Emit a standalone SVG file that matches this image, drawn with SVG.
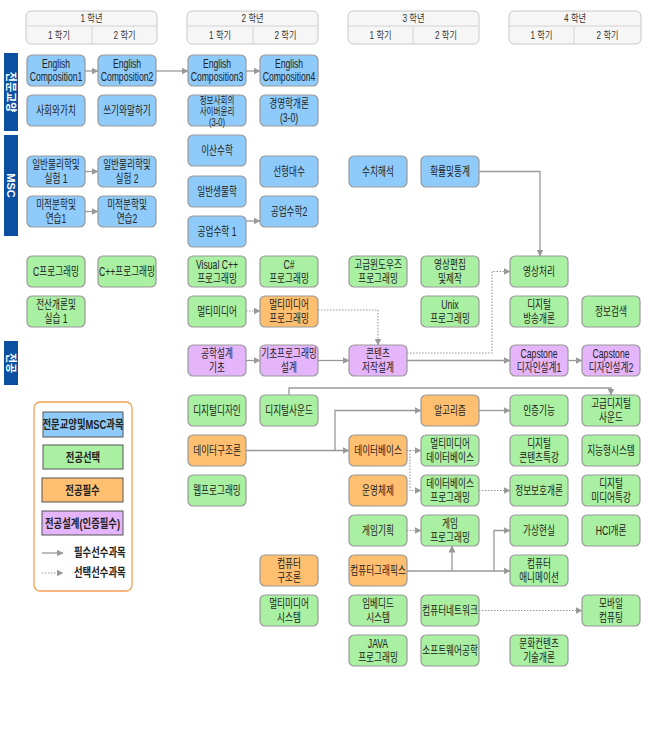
<svg xmlns="http://www.w3.org/2000/svg" width="650" height="750" viewBox="0 0 650 750">
<style>
text{font-family:"Liberation Sans","Noto Sans CJK KR",sans-serif;fill:#222}
.t{font-size:12px;text-anchor:middle;transform-box:fill-box;transform-origin:center;transform:scaleX(.72)}
.t3{font-size:10.5px}
.th{font-size:10px;text-anchor:middle;fill:#333;transform-box:fill-box;transform-origin:center;transform:scaleX(.82)}
.side{font-size:11px;font-weight:bold;fill:#fff;text-anchor:middle}
.lg{font-size:12px;font-weight:bold;text-anchor:middle;transform-box:fill-box;transform-origin:center;transform:scaleX(.78)}
.lgl{font-size:12px;font-weight:bold;transform-box:fill-box;transform-origin:left;transform:scaleX(.78)}
.n{stroke:#999;stroke-width:1.2;rx:5;ry:5}
.b{fill:#8ecbfb}.g{fill:#a9f0a2}.o{fill:#ffbf70}.p{fill:#e5b5fb}
.hd{fill:#f6f6f6;stroke:#c8c8c8;stroke-width:1}
.bar{fill:#0b4fa1}
.sl{fill:none;stroke:#999;stroke-width:1.3;marker-end:url(#ah)}
.dl{fill:none;stroke:#999;stroke-width:1.1;stroke-dasharray:1.5 1.5;marker-end:url(#ah)}
.li{stroke:#555;stroke-width:1}
</style>
<defs>
<marker id="ah" markerUnits="userSpaceOnUse" markerWidth="7" markerHeight="7" refX="6.5" refY="3.5" orient="auto"><path d="M0,0 L7,3.5 L0,7 z" fill="#999"/></marker>
</defs>

<g id="headers">
<g id="h-y1"><rect class="hd" x="26" y="11" width="131" height="33" rx="5"/><line x1="26" y1="26" x2="157" y2="26" stroke="#d4d4d4"/><line x1="92" y1="26" x2="92" y2="44" stroke="#d4d4d4"/>
<text class="th" x="91.5" y="22">1 학년</text><text class="th" x="59" y="39">1 학기</text><text class="th" x="124.5" y="39">2 학기</text></g>
<g id="h-y2"><rect class="hd" x="187" y="11" width="131" height="33" rx="5"/><line x1="187" y1="26" x2="318" y2="26" stroke="#d4d4d4"/><line x1="253" y1="26" x2="253" y2="44" stroke="#d4d4d4"/>
<text class="th" x="252.5" y="22">2 학년</text><text class="th" x="220" y="39">1 학기</text><text class="th" x="285.5" y="39">2 학기</text></g>
<g id="h-y3"><rect class="hd" x="348" y="11" width="131" height="33" rx="5"/><line x1="348" y1="26" x2="479" y2="26" stroke="#d4d4d4"/><line x1="413" y1="26" x2="413" y2="44" stroke="#d4d4d4"/>
<text class="th" x="413.5" y="22">3 학년</text><text class="th" x="380.5" y="39">1 학기</text><text class="th" x="446" y="39">2 학기</text></g>
<g id="h-y4"><rect class="hd" x="509" y="11" width="132" height="33" rx="5"/><line x1="509" y1="26" x2="641" y2="26" stroke="#d4d4d4"/><line x1="574" y1="26" x2="574" y2="44" stroke="#d4d4d4"/>
<text class="th" x="575" y="22">4 학년</text><text class="th" x="541.5" y="39">1 학기</text><text class="th" x="607.5" y="39">2 학기</text></g>
</g>

<g id="side-labels">
<g id="s-gen"><rect class="bar" x="4" y="53" width="14" height="78"/><text class="side" transform="translate(11,92) rotate(90)" y="4">전문교양</text></g>
<g id="s-msc"><rect class="bar" x="4" y="135" width="14" height="101"/><text class="side" transform="translate(11,185.5) rotate(90)" y="4">MSC</text></g>
<g id="s-major"><rect class="bar" x="4" y="341" width="14" height="44"/><text class="side" transform="translate(11,363) rotate(90)" y="4">전공</text></g>
</g>

<g id="connectors">
<path class="sl" d="M85,71 H98"/>
<path class="sl" d="M156,71 H188"/>
<path class="sl" d="M246,71 H260"/>
<path class="sl" d="M85,171.5 H98"/>
<path class="sl" d="M85,211.5 H98"/>
<path class="sl" d="M246,221 H260"/>
<path class="sl" d="M479,171.5 H540 V256"/>
<path class="sl" d="M246,360.5 H260"/>
<path class="sl" d="M318,360.5 H349"/>
<path class="sl" d="M407,360.5 H510"/>
<path class="sl" d="M568,360.5 H582"/>
<path class="sl" d="M289,395 V388 H611 V395"/>
<path class="sl" d="M246,450.5 H349"/>
<path class="sl" d="M335,450.5 V410.5 H421"/>
<path class="sl" d="M479,410.5 H510"/>
<path class="sl" d="M407,571 H510"/>
<path class="sl" d="M452,571 V546"/>
<path class="sl" d="M494,571 V530.5 H510"/>
<path class="dl" d="M246,311 H260"/>
<path class="dl" d="M318,310 H378 V345"/>
<path class="dl" d="M407,353 H492 V271.5 H510"/>
<path class="dl" d="M407,450.5 H421"/>
<path class="dl" d="M410,450.5 V490.5 H421"/>
<path class="dl" d="M479,490.5 H510"/>
<path class="dl" d="M407,530.5 H421"/>
<path class="dl" d="M479,610.5 H582"/>
</g>

<!-- column 1 -->
<g id="ec1"><rect class="n b" x="27" y="55" width="58" height="31"/><text class="t" x="56" y="68">English<tspan x="56" y="81">Composition1</tspan></text></g>
<g id="society"><rect class="n b" x="27" y="95" width="58" height="31"/><text class="t" x="56" y="115">사회와가치</text></g>
<g id="phys1"><rect class="n b" x="27" y="156" width="58" height="31"/><text class="t" x="56" y="169">일반물리학및<tspan x="56" y="183">실험 1</tspan></text></g>
<g id="calc1"><rect class="n b" x="27" y="196" width="58" height="31"/><text class="t" x="56" y="209">미적분학및<tspan x="56" y="223">연습1</tspan></text></g>
<g id="cprog"><rect class="n g" x="27" y="256" width="58" height="31"/><text class="t" x="56" y="276">C프로그래밍</text></g>
<g id="intro-cs"><rect class="n g" x="27" y="296" width="58" height="31"/><text class="t" x="56" y="309">전산개론및<tspan x="56" y="323">실습 1</tspan></text></g>

<!-- column 2 -->
<g id="ec2"><rect class="n b" x="98" y="55" width="58" height="31"/><text class="t" x="127" y="68">English<tspan x="127" y="81">Composition2</tspan></text></g>
<g id="writing"><rect class="n b" x="98" y="95" width="58" height="31"/><text class="t" x="127" y="115">쓰기와말하기</text></g>
<g id="phys2"><rect class="n b" x="98" y="156" width="58" height="31"/><text class="t" x="127" y="169">일반물리학및<tspan x="127" y="183">실험 2</tspan></text></g>
<g id="calc2"><rect class="n b" x="98" y="196" width="58" height="31"/><text class="t" x="127" y="209">미적분학및<tspan x="127" y="223">연습2</tspan></text></g>
<g id="cppprog"><rect class="n g" x="98" y="256" width="58" height="31"/><text class="t" x="127" y="276">C++프로그래밍</text></g>

<!-- column 3 -->
<g id="ec3"><rect class="n b" x="188" y="55" width="58" height="31"/><text class="t" x="217" y="68">English<tspan x="217" y="81">Composition3</tspan></text></g>
<g id="cyber-ethics"><rect class="n b" x="188" y="95" width="58" height="31"/><text class="t t3" x="217" y="104">정보사회의<tspan x="217" y="115">사이버윤리</tspan><tspan x="217" y="126">(3-0)</tspan></text></g>
<g id="discrete"><rect class="n b" x="188" y="135" width="58" height="31"/><text class="t" x="217" y="155">이산수학</text></g>
<g id="biology"><rect class="n b" x="188" y="176" width="58" height="31"/><text class="t" x="217" y="196">일반생물학</text></g>
<g id="engmath1"><rect class="n b" x="188" y="216" width="58" height="31"/><text class="t" x="217" y="236">공업수학 1</text></g>
<g id="vcpp"><rect class="n g" x="188" y="256" width="58" height="31"/><text class="t" x="217" y="269">Visual C++<tspan x="217" y="283">프로그래밍</tspan></text></g>
<g id="multimedia"><rect class="n g" x="188" y="296" width="58" height="31"/><text class="t" x="217" y="316">멀티미디어</text></g>
<g id="eng-design"><rect class="n p" x="188" y="345" width="58" height="31"/><text class="t" x="217" y="358">공학설계<tspan x="217" y="372">기초</tspan></text></g>
<g id="digital-design"><rect class="n g" x="188" y="395" width="58" height="31"/><text class="t" x="217" y="415">디지털디자인</text></g>
<g id="data-struct"><rect class="n o" x="188" y="435" width="58" height="31"/><text class="t" x="217" y="455">데이터구조론</text></g>
<g id="web-prog"><rect class="n g" x="188" y="475" width="58" height="31"/><text class="t" x="217" y="495">웹프로그래밍</text></g>

<!-- column 4 -->
<g id="ec4"><rect class="n b" x="260" y="55" width="58" height="31"/><text class="t" x="289" y="68">English<tspan x="289" y="81">Composition4</tspan></text></g>
<g id="business"><rect class="n b" x="260" y="95" width="58" height="31"/><text class="t" x="289" y="108">경영학개론<tspan x="289" y="122">(3-0)</tspan></text></g>
<g id="linear"><rect class="n b" x="260" y="156" width="58" height="31"/><text class="t" x="289" y="176">선형대수</text></g>
<g id="engmath2"><rect class="n b" x="260" y="196" width="58" height="31"/><text class="t" x="289" y="216">공업수학2</text></g>
<g id="csharp"><rect class="n g" x="260" y="256" width="58" height="31"/><text class="t" x="289" y="269">C#<tspan x="289" y="283">프로그래밍</tspan></text></g>
<g id="mm-prog"><rect class="n o" x="260" y="296" width="58" height="31"/><text class="t" x="289" y="309">멀티미디어<tspan x="289" y="323">프로그래밍</tspan></text></g>
<g id="basic-prog-design"><rect class="n p" x="260" y="345" width="58" height="31"/><text class="t" x="289" y="358">기초프로그래밍<tspan x="289" y="372">설계</tspan></text></g>
<g id="digital-sound"><rect class="n g" x="260" y="395" width="58" height="31"/><text class="t" x="289" y="415">디지털사운드</text></g>
<g id="comp-arch"><rect class="n o" x="260" y="555" width="58" height="31"/><text class="t" x="289" y="568">컴퓨터<tspan x="289" y="582">구조론</tspan></text></g>
<g id="mm-system"><rect class="n g" x="260" y="595" width="58" height="31"/><text class="t" x="289" y="608">멀티미디어<tspan x="289" y="622">시스템</tspan></text></g>

<!-- column 5 -->
<g id="numerical"><rect class="n b" x="349" y="156" width="58" height="31"/><text class="t" x="378" y="176">수치해석</text></g>
<g id="adv-windows"><rect class="n g" x="349" y="256" width="58" height="31"/><text class="t" x="378" y="269">고급윈도우즈<tspan x="378" y="283">프로그래밍</tspan></text></g>
<g id="content-design"><rect class="n p" x="349" y="345" width="58" height="31"/><text class="t" x="378" y="358">콘텐츠<tspan x="378" y="372">저작설계</tspan></text></g>
<g id="database"><rect class="n o" x="349" y="435" width="58" height="31"/><text class="t" x="378" y="455">데이터베이스</text></g>
<g id="os"><rect class="n o" x="349" y="475" width="58" height="31"/><text class="t" x="378" y="495">운영체제</text></g>
<g id="game-plan"><rect class="n g" x="349" y="515" width="58" height="31"/><text class="t" x="378" y="535">게임기획</text></g>
<g id="graphics"><rect class="n o" x="349" y="555" width="58" height="31"/><text class="t" x="378" y="575">컴퓨터그래픽스</text></g>
<g id="embedded"><rect class="n g" x="349" y="595" width="58" height="31"/><text class="t" x="378" y="608">임베디드<tspan x="378" y="622">시스템</tspan></text></g>
<g id="java"><rect class="n g" x="349" y="635" width="58" height="31"/><text class="t" x="378" y="648">JAVA<tspan x="378" y="662">프로그래밍</tspan></text></g>

<!-- column 6 -->
<g id="prob-stat"><rect class="n b" x="421" y="156" width="58" height="31"/><text class="t" x="450" y="176">확률및통계</text></g>
<g id="video-edit"><rect class="n g" x="421" y="256" width="58" height="31"/><text class="t" x="450" y="269">영상편집<tspan x="450" y="283">및제작</tspan></text></g>
<g id="unix"><rect class="n g" x="421" y="296" width="58" height="31"/><text class="t" x="450" y="309">Unix<tspan x="450" y="323">프로그래밍</tspan></text></g>
<g id="algorithm"><rect class="n o" x="421" y="395" width="58" height="31"/><text class="t" x="450" y="415">알고리즘</text></g>
<g id="mm-db"><rect class="n g" x="421" y="435" width="58" height="31"/><text class="t" x="450" y="448">멀티미디어<tspan x="450" y="462">데이터베이스</tspan></text></g>
<g id="db-prog"><rect class="n g" x="421" y="475" width="58" height="31"/><text class="t" x="450" y="488">데이터베이스<tspan x="450" y="502">프로그래밍</tspan></text></g>
<g id="game-prog"><rect class="n g" x="421" y="515" width="58" height="31"/><text class="t" x="450" y="528">게임<tspan x="450" y="542">프로그래밍</tspan></text></g>
<g id="network"><rect class="n g" x="421" y="595" width="58" height="31"/><text class="t" x="450" y="615">컴퓨터네트워크</text></g>
<g id="sw-eng"><rect class="n g" x="421" y="635" width="58" height="31"/><text class="t" x="450" y="655">소프트웨어공학</text></g>

<!-- column 7 -->
<g id="image-proc"><rect class="n g" x="510" y="256" width="58" height="31"/><text class="t" x="539" y="276">영상처리</text></g>
<g id="broadcast"><rect class="n g" x="510" y="296" width="58" height="31"/><text class="t" x="539" y="309">디지털<tspan x="539" y="323">방송개론</tspan></text></g>
<g id="capstone1"><rect class="n p" x="510" y="345" width="58" height="31"/><text class="t" x="539" y="358">Capstone<tspan x="539" y="372">디자인설계1</tspan></text></g>
<g id="auth"><rect class="n g" x="510" y="395" width="58" height="31"/><text class="t" x="539" y="415">인증기능</text></g>
<g id="dc-special"><rect class="n g" x="510" y="435" width="58" height="31"/><text class="t" x="539" y="448">디지털<tspan x="539" y="462">콘텐츠특강</tspan></text></g>
<g id="security"><rect class="n g" x="510" y="475" width="58" height="31"/><text class="t" x="539" y="495">정보보호개론</text></g>
<g id="vr"><rect class="n g" x="510" y="515" width="58" height="31"/><text class="t" x="539" y="535">가상현실</text></g>
<g id="animation"><rect class="n g" x="510" y="555" width="58" height="31"/><text class="t" x="539" y="568">컴퓨터<tspan x="539" y="582">애니메이션</tspan></text></g>
<g id="culture"><rect class="n g" x="510" y="635" width="58" height="31"/><text class="t" x="539" y="648">문화컨텐츠<tspan x="539" y="662">기술개론</tspan></text></g>

<!-- column 8 -->
<g id="ir"><rect class="n g" x="582" y="296" width="58" height="31"/><text class="t" x="611" y="316">정보검색</text></g>
<g id="capstone2"><rect class="n p" x="582" y="345" width="58" height="31"/><text class="t" x="611" y="358">Capstone<tspan x="611" y="372">디자인설계2</tspan></text></g>
<g id="adv-sound"><rect class="n g" x="582" y="395" width="58" height="31"/><text class="t" x="611" y="408">고급디지털<tspan x="611" y="422">사운드</tspan></text></g>
<g id="intelligent"><rect class="n g" x="582" y="435" width="58" height="31"/><text class="t" x="611" y="455">지능형시스템</text></g>
<g id="dm-special"><rect class="n g" x="582" y="475" width="58" height="31"/><text class="t" x="611" y="488">디지털<tspan x="611" y="502">미디어특강</tspan></text></g>
<g id="hci"><rect class="n g" x="582" y="515" width="58" height="31"/><text class="t" x="611" y="535">HCI개론</text></g>
<g id="mobile"><rect class="n g" x="582" y="595" width="58" height="31"/><text class="t" x="611" y="608">모바일<tspan x="611" y="622">컴퓨팅</tspan></text></g>

<g id="legend">
<rect x="34" y="402" width="98" height="189" rx="6" fill="#fff" stroke="#f0a050" stroke-width="1.3"/>
<rect class="li b" x="43" y="412" width="80" height="25"/><text class="lg" x="83" y="429">전문교양및MSC과목</text>
<rect class="li g" x="43" y="445" width="80" height="24"/><text class="lg" x="83" y="462">전공선택</text>
<rect class="li o" x="42" y="478" width="81" height="24"/><text class="lg" x="82.5" y="495">전공필수</text>
<rect class="li p" x="42" y="511" width="81" height="24"/><text class="lg" x="82.5" y="528">전공설계(인증필수)</text>
<path class="sl" d="M42,553 H63"/><text class="lgl" x="74" y="557">필수선수과목</text>
<path class="dl" d="M42,573 H63"/><text class="lgl" x="74" y="577">선택선수과목</text>
</g>
</svg>
